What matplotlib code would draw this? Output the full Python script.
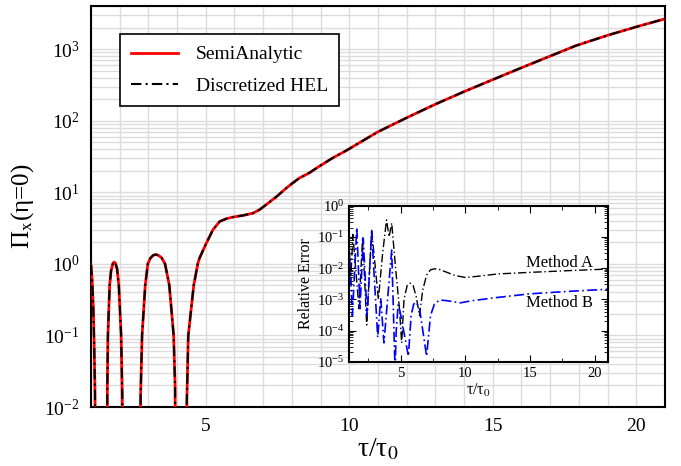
import matplotlib
matplotlib.use('Agg')
import matplotlib.pyplot as plt
from matplotlib.ticker import MultipleLocator, LogLocator, NullFormatter

plt.rcParams['font.family'] = ['Liberation Serif', 'DejaVu Serif']
plt.rcParams['mathtext.fontset'] = 'stix'

# main curve (1e-4 marks the zeros, below the axis)
tau = [1.00, 1.04, 1.08, 1.11, 1.14, 1.16,
       1.55, 1.57, 1.59, 1.65, 1.70, 1.76, 1.80, 1.85, 1.91, 1.97, 2.05, 2.09, 2.11,
       2.70, 2.73, 2.78, 2.89, 2.98, 3.07, 3.17, 3.25, 3.34, 3.46, 3.58, 3.73, 3.88, 3.93, 3.95,
       4.31, 4.34, 4.39, 4.58, 4.72, 4.78, 5.02, 5.25, 5.48, 5.71, 5.94, 6.29, 6.64, 6.87,
       7.10, 7.45, 7.80, 8.02, 8.26, 8.60, 8.95, 9.41, 9.88, 10.23, 11.0, 12.0, 13.0,
       14.0, 15.0, 16.0, 17.0, 17.9, 19.0, 20.0, 21.0]
pi_x = [0.97, 0.6, 0.25, 0.08, 0.015, 1e-4,
        1e-4, 0.02, 0.1, 0.5, 0.8, 1.0, 1.06, 1.03, 0.85, 0.5, 0.1, 0.015, 1e-4,
        1e-4, 0.015, 0.1, 0.5, 1.0, 1.2, 1.32, 1.35, 1.32, 1.22, 1.0, 0.5, 0.1, 0.02, 1e-4,
        1e-4, 0.012, 0.1, 0.5, 1.0, 1.2, 1.95, 3.0, 3.9, 4.27, 4.5, 4.74, 5.1, 5.7,
        6.7, 8.6, 11.4, 13.4, 15.8, 18.6, 23, 30, 38, 46, 70, 110, 170,
        255, 375, 550, 800, 1120, 1560, 2050, 2650]

# inset: relative error of the two methods
tau_a = [1.0, 1.12, 1.3, 1.77, 2.05, 2.37, 2.75, 3.27, 3.6, 3.9, 4.1, 4.3, 4.6, 4.9,
         5.07, 5.25, 5.5, 5.72, 5.95, 6.2, 6.45, 6.7, 7.0, 7.3, 7.6, 8.0, 8.5, 9.2,
         10.0, 11.0, 12.5, 15.0, 18.0, 21.0]
err_a = [0.1, 3e-3, 0.12, 5e-4, 0.1, 1.5e-4, 0.17, 1e-3, 0.03, 0.35, 0.1, 0.28, 0.01, 5e-4,
         4e-5, 1e-3, 2.8e-3, 3.3e-3, 2.8e-3, 1.2e-3, 3e-4, 2e-3, 6e-3, 8.8e-3, 9.5e-3, 9e-3, 7.5e-3, 5.8e-3,
         5e-3, 5.5e-3, 6.5e-3, 7.3e-3, 8.3e-3, 9.3e-3]
tau_b = [1.0, 1.26, 1.6, 1.85, 2.1, 2.4, 2.75, 3.22, 3.45, 3.7, 4.3, 4.56, 4.65, 4.8, 4.95,
         5.59, 5.8, 6.0, 6.2, 6.45, 7.0, 7.3, 7.6, 8.0, 8.6, 9.6, 10.5, 12.5, 15.0, 18.0, 21.0]
err_b = [0.08, 3e-4, 0.2, 5e-4, 0.09, 3e-4, 0.15, 6e-5, 1.1e-3, 4e-5, 0.038, 5e-6, 1e-4, 6.6e-4, 4e-4,
         1.5e-5, 3e-4, 7e-4, 8e-4, 5e-4, 1.5e-5, 3e-4, 7e-4, 9.5e-4, 9e-4, 7.7e-4, 9e-4, 1.15e-3, 1.5e-3, 1.8e-3, 2.1e-3]

fig = plt.figure(figsize=(6.81, 4.66), dpi=100)
ax = fig.add_axes([0.1336, 0.1266, 0.8429, 0.8604])

ax.plot(tau, pi_x, color='red', lw=2.0, label='SemiAnalytic', zorder=3)
ax.plot(tau, pi_x, color='black', lw=1.5, ls=(0, (5, 2, 1, 2)), label='Discretized HEL', zorder=4)

ax.set_yscale('log')
ax.set_xlim(1, 21)
ax.set_ylim(1e-2, 4000)
ax.xaxis.set_major_locator(MultipleLocator(5))
ax.xaxis.set_minor_locator(MultipleLocator(1))
ax.yaxis.set_major_locator(LogLocator(base=10, numticks=12))
ax.yaxis.set_minor_locator(LogLocator(base=10, subs=range(2, 10), numticks=12))
ax.yaxis.set_minor_formatter(NullFormatter())
ax.grid(True, which='both', color='#dcdcdc', lw=1.0, zorder=0)
ax.set_axisbelow(True)
ax.tick_params(which='both', length=0, labelsize=14, pad=8)
for s in ax.spines.values():
    s.set_linewidth(1.5)

ax.set_xlabel('τ/τ$_0$', fontsize=20, labelpad=1)
ax.set_ylabel('Π$_\\mathrm{x}$(η=0)', fontsize=18, labelpad=6)

leg = ax.legend(loc='upper left', bbox_to_anchor=(0.05, 0.93), borderaxespad=0,
                fontsize=14, handlelength=2.4, handletextpad=0.9, labelspacing=0.7,
                fancybox=False, framealpha=1, edgecolor='black', borderpad=0.6)
leg.get_frame().set_linewidth(1.2)

# inset
ins = fig.add_axes([0.5125, 0.2238, 0.3799, 0.3348])
ins.plot(tau_a, err_a, color='black', lw=1.0, ls=(0, (6, 2, 1, 2)))
ins.plot(tau_b, err_b, color='blue', lw=1.2, ls=(0, (6, 2, 1, 2)))
ins.set_yscale('log')
ins.set_xlim(1, 21)
ins.set_ylim(1e-5, 1)
ins.xaxis.set_major_locator(MultipleLocator(5))
ins.xaxis.set_minor_locator(MultipleLocator(2.5))
ins.yaxis.set_major_locator(LogLocator(base=10, numticks=12))
ins.yaxis.set_minor_locator(LogLocator(base=10, subs=range(2, 10), numticks=12))
ins.yaxis.set_minor_formatter(NullFormatter())
ins.tick_params(which='both', direction='in', top=True, right=True, labelsize=10.5)
ins.tick_params(which='major', length=5)
ins.tick_params(which='minor', length=3)
for s in ins.spines.values():
    s.set_linewidth(1.5)
ins.set_xlabel('τ/τ$_0$', fontsize=11.5, labelpad=2)
ins.set_ylabel('Relative Error', fontsize=11.5, labelpad=2)
ins.text(14.7, 1.45e-2, 'Method A', fontsize=12, va='center')
ins.text(14.7, 7.6e-4, 'Method B', fontsize=12, va='center')

fig.savefig('out.png', dpi=100)
